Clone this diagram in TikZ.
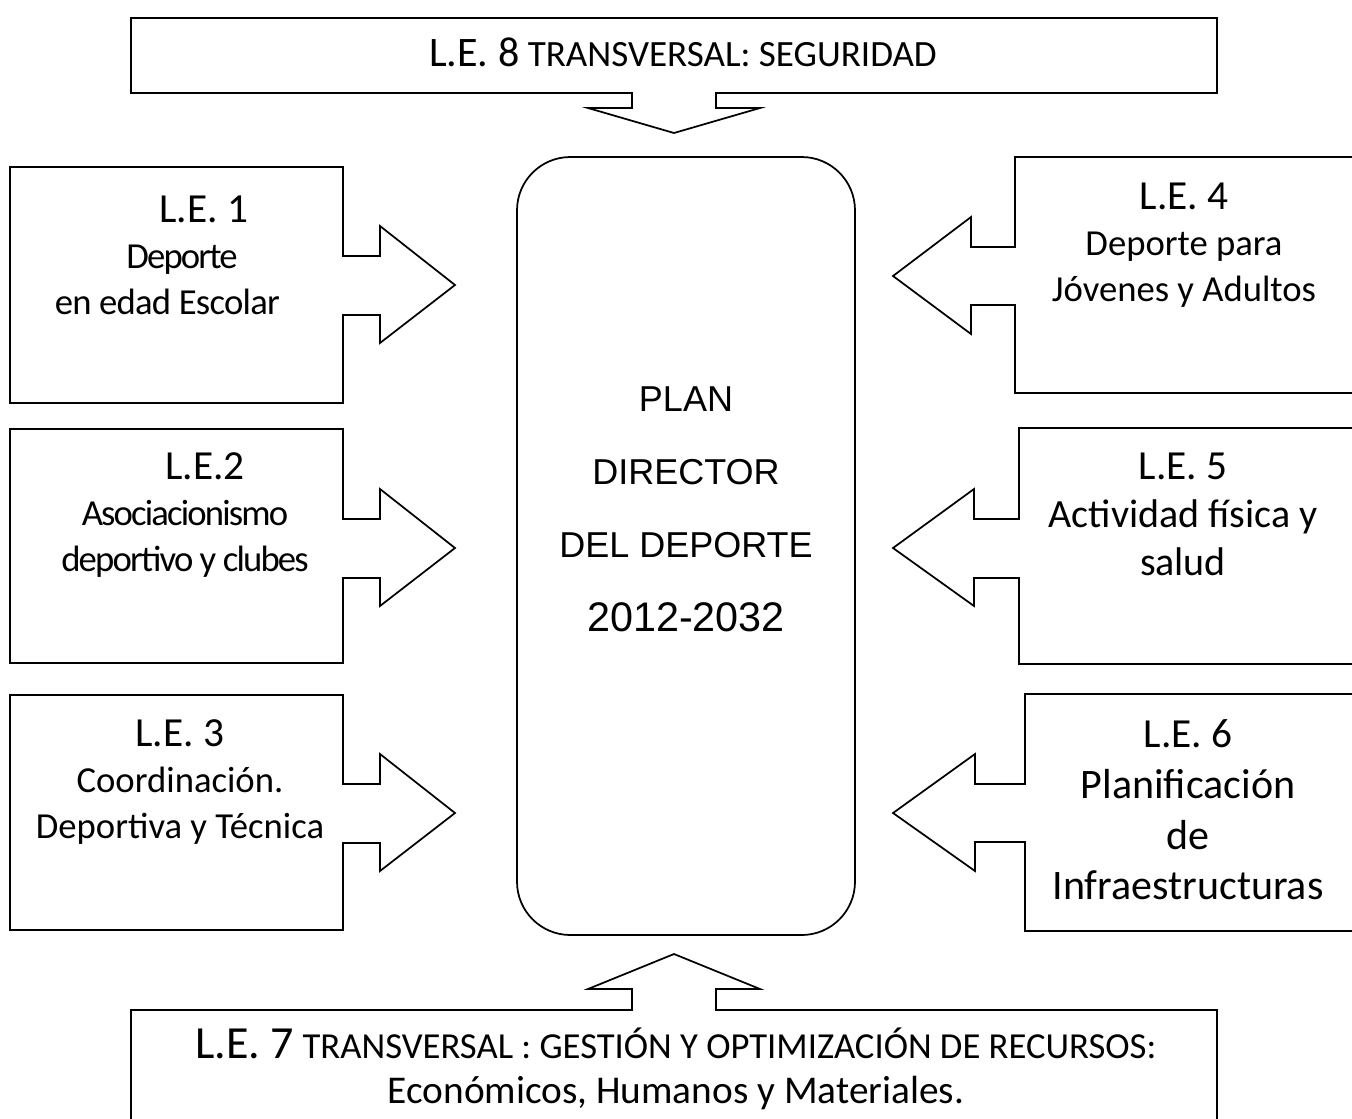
\documentclass[tikz,border=0pt]{standalone}
\usepackage{fontspec}
\setmainfont{Carlito}
\newfontfamily\planfont{Liberation Sans}

\begin{document}
\begin{tikzpicture}[x = 0.75pt, y = -0.75pt, line width = 1.3pt, line join = miter, every node/.style={align = center, inner sep = 0pt, font = \fontsize{27.5}{34.5}\selectfont}]

  \useasboundingbox (0, 0) rectangle (1352, 1118);
  \clip (0, 0) rectangle (1352, 1118);

  % centre
  \draw [rounded corners = 40pt] (517, 157) rectangle (855, 935);
  \node [font = \planfont\fontsize{27}{55}\selectfont] (plan) at (686, 509) {PLAN\\ DIRECTOR\\ DEL DEPORTE\\ {\fontsize{31}{55}\selectfont 2012-2032}};

  % top and bottom
  \draw (131, 18) -- (1217, 18) -- (1217, 93) -- (716, 93) -- (716, 108) -- (760, 108) -- (674, 133) -- (588, 108) -- (632, 108) -- (632, 93) -- (131, 93) -- cycle;
  \node [font = \fontsize{27.8}{32}\selectfont] (le8) at (683, 52) {{\fontsize{31.5}{36}\selectfont L.E. 8} TRANSVERSAL: SEGURIDAD};

  \draw (131, 1130) -- (131, 1010) -- (632, 1010) -- (632, 989) -- (588, 989) -- (674, 954) -- (760, 989) -- (716, 989) -- (716, 1010) -- (1217, 1010) -- (1217, 1130);
  \node [font = \fontsize{27.5}{34}\selectfont] (le7) at (676, 1069) {{\fontsize{34.5}{34}\selectfont L.E. 7} TRANSVERSAL : GESTIÓN Y OPTIMIZACIÓN DE RECURSOS:\\ {\fontsize{29.5}{34}\selectfont Económicos, Humanos y Materiales.}};

  % left
  \draw (10, 167) -- (343, 167) -- (343, 256) -- (380, 256) -- (380, 226) -- (455, 285) -- (380, 343) -- (380, 315) -- (343, 315) -- (343, 403) -- (10, 403) -- cycle;
  \node (le1) at (182, 255) {\hspace*{33pt}{\fontsize{31}{34.5}\selectfont L.E. 1}\\ {\addfontfeature{LetterSpace=-5}Deporte}\\ {\addfontfeature{LetterSpace=-2}en edad Escolar}\hspace*{22pt}};

  \draw (10, 429) -- (343, 429) -- (343, 519) -- (380, 519) -- (380, 489) -- (455, 548) -- (380, 606) -- (380, 578) -- (343, 578) -- (343, 663) -- (10, 663) -- cycle;
  \node (le2) at (185, 515) {\hspace*{30pt}{\fontsize{31}{34.5}\selectfont L.E.2}\\ {\addfontfeature{LetterSpace=-5}Asociacionismo}\\ {\addfontfeature{LetterSpace=-5}deportivo y clubes}};

  \draw (10, 695) -- (343, 695) -- (343, 784) -- (380, 784) -- (380, 754) -- (455, 813) -- (380, 871) -- (380, 843) -- (343, 843) -- (343, 930) -- (10, 930) -- cycle;
  \node (le3) at (180, 782) {{\fontsize{31}{34.5}\selectfont L.E. 3}\\ Coordinación.\\ Deportiva y Técnica};

  % right
  \draw (1360, 157) -- (1015, 157) -- (1015, 247) -- (971, 247) -- (971, 217) -- (893, 276) -- (971, 334) -- (971, 305) -- (1015, 305) -- (1015, 393) -- (1360, 393);
  \node (le4) at (1184, 245) {{\fontsize{31}{34.5}\selectfont L.E. 4}\\ Deporte para\\ Jóvenes y Adultos};

  \draw (1360, 428) -- (1019, 428) -- (1019, 519) -- (974, 519) -- (974, 489) -- (893, 548) -- (974, 606) -- (974, 578) -- (1019, 578) -- (1019, 664) -- (1360, 664);
  \node [font = \fontsize{30}{36}\selectfont] (le5) at (1183, 514) {{\fontsize{31}{36}\selectfont L.E. 5}\\ Actividad física y\hspace*{18pt}\\ salud};

  \draw (1360, 694) -- (1025, 694) -- (1025, 784) -- (975, 784) -- (975, 754) -- (893, 813) -- (975, 871) -- (975, 842) -- (1025, 842) -- (1025, 931) -- (1360, 931);
  \node [font = \fontsize{31.5}{38}\selectfont] (le6) at (1188, 810) {{\fontsize{31}{38}\selectfont L.E. 6}\\ Planificación\\ de\\ Infraestructuras};

\end{tikzpicture}
\end{document}
